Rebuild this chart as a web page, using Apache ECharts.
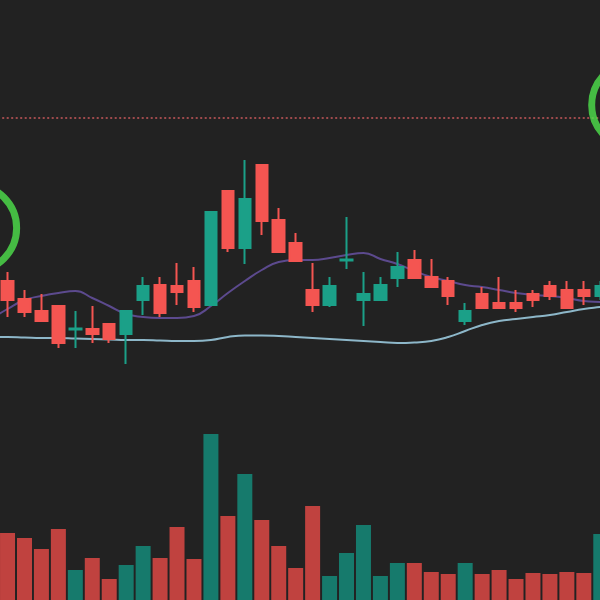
<!DOCTYPE html>
<html>
<head>
<meta charset="utf-8">
<style>html,body{margin:0;padding:0;background:#222222;}#chart{width:600px;height:600px;}</style>
<script src="https://cdn.jsdelivr.net/npm/echarts@6/dist/echarts.min.js"></script>
</head>
<body>
<div id="chart"></div>
<script>
// category labels (3 off-screen days on each side of the visible 36)
const categories = [];
for (let i = 1; i <= 42; i++) categories.push('D' + i);
const OFFSET = 3; // first visible candle sits at categories[3]

// visible candles: [open, close, low, high]
const candles = [
  [10.0, 11.9, 8.3, 12.8],
  [8.8, 10.1, 8.3, 11.0],
  [7.9, 8.9, 7.9, 10.6],
  [5.7, 9.4, 5.2, 9.4],
  [7.15, 7.05, 5.2, 8.9],
  [6.6, 7.1, 5.7, 9.4],
  [6.1, 7.6, 5.7, 7.6],
  [8.9, 6.6, 3.6, 8.9],
  [11.4, 10.0, 8.5, 12.3],
  [8.7, 11.5, 8.3, 12.3],
  [10.8, 11.4, 9.5, 13.7],
  [9.3, 11.9, 8.8, 13.3],
  [18.8, 9.5, 9.5, 18.8],
  [15.2, 20.9, 14.8, 20.9],
  [20.1, 15.2, 13.6, 24.0],
  [17.9, 23.5, 16.5, 23.5],
  [14.8, 18.0, 14.8, 19.2],
  [13.9, 15.7, 13.9, 16.7],
  [9.5, 11.0, 8.8, 13.7],
  [11.4, 9.5, 9.3, 12.3],
  [14.05, 13.95, 13.1, 18.3],
  [10.6, 10.0, 7.4, 12.8],
  [11.5, 10.0, 10.0, 12.3],
  [13.3, 12.2, 11.3, 14.8],
  [12.2, 14.0, 12.2, 15.0],
  [11.3, 12.3, 11.3, 14.1],
  [10.4, 11.9, 9.5, 12.3],
  [8.9, 7.9, 7.5, 9.7],
  [9.2, 10.6, 9.2, 11.3],
  [9.2, 9.7, 9.2, 12.3],
  [9.2, 9.7, 8.8, 11.0],
  [10.0, 10.6, 9.3, 11.0],
  [10.4, 11.4, 10.0, 11.9],
  [9.2, 11.0, 9.2, 11.9],
  [10.4, 11.0, 9.5, 11.9],
  [11.4, 10.4, 10.0, 11.9]
];

const volumes = [67, 62, 51, 71, 30, 42, 21, 35, 54, 42, 73, 41, 166, 84, 126, 80, 54, 32,
  94, 24, 47, 75, 24, 37, 37, 28, 26, 37, 26, 30, 21, 27, 26, 28, 27, 66];

// moving-average lines, from the day before the first visible candle to the day after the last
const maShort = [8.1, 9.1, 10.0, 10.4, 10.7, 10.9, 10.2, 9.4, 8.6, 8.3, 8.2, 8.2, 8.4, 9.4, 10.7,
  11.9, 13.0, 13.8, 14.0, 14.0, 14.2, 14.5, 14.7, 14.1, 13.6, 12.9, 12.3, 11.9, 11.5, 11.3, 11.0,
  10.7, 10.5, 10.4, 10.2, 9.9, 9.8, 9.7];
const maLong = [6.3, 6.3, 6.25, 6.2, 6.2, 6.15, 6.1, 6.05, 6.0, 6.0, 5.95, 5.9, 5.9, 6.0, 6.3,
  6.45, 6.45, 6.4, 6.3, 6.2, 6.1, 6.0, 5.9, 5.8, 5.7, 5.75, 5.9, 6.3, 6.9, 7.5, 7.9, 8.1, 8.3,
  8.5, 8.8, 9.1, 9.3, 9.5];

const resistanceLevel = 28.2;
// highlighted days (ring annotations): [category index, price]
const rings = [[1, 17.2], [40, 29.5]];

const UP = '#f45551', DOWN = '#1ba088';
const VOL_UP = '#c0423f', VOL_DOWN = '#167a6c';

function pad(arr, before) {
  const out = [];
  for (let i = 0; i < categories.length; i++) {
    const k = i - before;
    out.push(k >= 0 && k < arr.length ? arr[k] : '-');
  }
  return out;
}
const candleData = pad(candles, OFFSET);
const volData = pad(volumes, OFFSET);
const maShortData = pad(maShort, OFFSET - 1);
const maLongData = pad(maLong, OFFSET - 1);

const chart = echarts.init(document.getElementById('chart'));
const hiddenAxis = {
  axisLine: { show: false }, axisTick: { show: false },
  axisLabel: { show: false }, splitLine: { show: false }
};
chart.setOption({
  backgroundColor: '#222222',
  animation: false,
  grid: [
    { left: -51.8, right: -60.1, top: 0, height: 400, outerBoundsMode: 'none', containLabel: false },
    { left: -51.8, right: -60.1, top: 400, height: 200, outerBoundsMode: 'none', containLabel: false }
  ],
  xAxis: [
    Object.assign({ type: 'category', data: categories, gridIndex: 0, boundaryGap: true }, hiddenAxis),
    Object.assign({ type: 'category', data: categories, gridIndex: 1, boundaryGap: true }, hiddenAxis)
  ],
  yAxis: [
    Object.assign({ type: 'value', gridIndex: 0, min: 0, max: 40 }, hiddenAxis),
    Object.assign({ type: 'value', gridIndex: 1, min: 0, max: 200 }, hiddenAxis)
  ],
  series: [
    {
      type: 'line', data: maLongData, xAxisIndex: 0, yAxisIndex: 0,
      smooth: true, symbol: 'none', lineStyle: { color: '#8db7c9', width: 2 }, z: 2
    },
    {
      type: 'line', data: maShortData, xAxisIndex: 0, yAxisIndex: 0,
      smooth: true, symbol: 'none', lineStyle: { color: '#5c4a8e', width: 2 }, z: 2
    },
    {
      type: 'candlestick', data: candleData, xAxisIndex: 0, yAxisIndex: 0,
      barWidth: 12, z: 3,
      itemStyle: { color: UP, color0: DOWN, borderColor: UP, borderColor0: DOWN, borderWidth: 2 },
      markLine: {
        silent: true, symbol: 'none', label: { show: false },
        lineStyle: { color: '#c8585b', width: 1.5, type: [2, 2.5] },
        data: [{ yAxis: resistanceLevel }]
      }
    },
    {
      type: 'scatter', data: rings, xAxisIndex: 0, yAxisIndex: 0, symbol: 'circle',
      symbolSize: 86, z: 5, silent: true,
      itemStyle: { color: 'rgba(0,0,0,0)', borderColor: '#4fe24c', borderWidth: 7 }
    },
    {
      type: 'bar', data: volData, xAxisIndex: 1, yAxisIndex: 1, barWidth: 15,
      itemStyle: {
        color: function (p) {
          const c = candles[p.dataIndex - OFFSET];
          return c && c[1] >= c[0] ? VOL_UP : VOL_DOWN;
        }
      }
    }
  ]
});
</script>
</body>
</html>
